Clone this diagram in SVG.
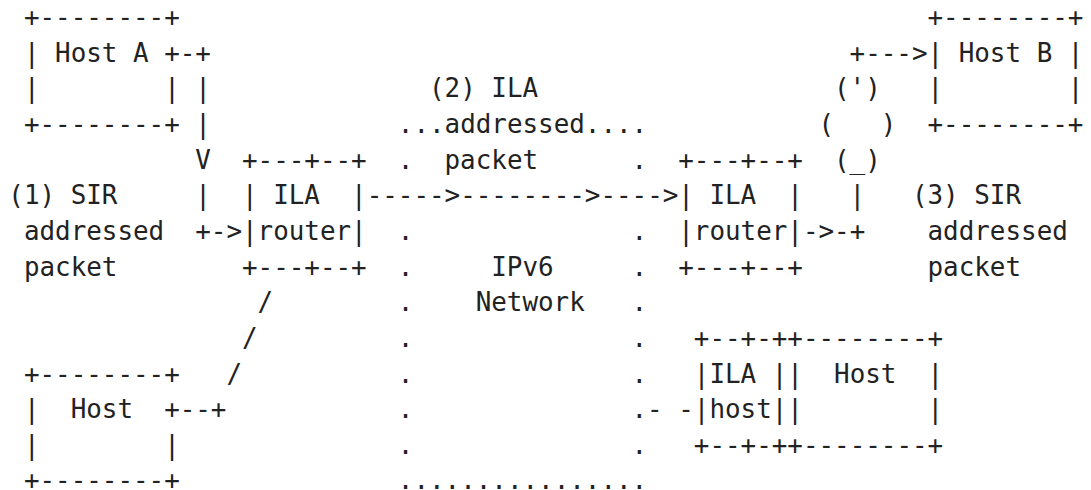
<svg xmlns="http://www.w3.org/2000/svg" width="1091" height="490" viewBox="0 0 1091 490" xml:space="preserve">
<style>
text { font-family: "DejaVu Sans Mono", "Liberation Mono", monospace; font-size: 25.9px; fill: #222222; white-space: pre; }
</style>
<rect width="1091" height="490" fill="#ffffff"/>
<g id="host-a">
<text x="23.88" y="26.1">+--------+</text>
<text x="23.88" y="61.74">| Host A +</text>
<text x="23.88" y="97.38">|        |</text>
<text x="23.88" y="133.02">+--------+</text>
</g>
<g id="host-b">
<text x="927.52" y="26.1">+--------+</text>
<text x="927.52" y="61.74">| Host B |</text>
<text x="927.52" y="97.38">|        |</text>
<text x="927.52" y="133.02">+--------+</text>
</g>
<g id="ila-router-left">
<text x="242" y="168.66">+---+--+</text>
<text x="242" y="204.3">| ILA  |</text>
<text x="242" y="239.94">|router|</text>
<text x="242" y="275.58">+---+--+</text>
</g>
<g id="ila-router-right">
<text x="678.24" y="168.66">+---+--+</text>
<text x="678.24" y="204.3">| ILA  |</text>
<text x="678.24" y="239.94">|router|</text>
<text x="678.24" y="275.58">+---+--+</text>
</g>
<g id="host-bottom">
<text x="23.88" y="382.5">+--------+</text>
<text x="23.88" y="418.14">|  Host  +</text>
<text x="23.88" y="453.78">|        |</text>
<text x="23.88" y="489.42">+--------+</text>
</g>
<g id="ila-host">
<text x="693.82" y="346.86">+--+-++--------+</text>
<text x="693.82" y="382.5">|ILA ||  Host  |</text>
<text x="693.82" y="418.14">|host||        |</text>
<text x="693.82" y="453.78">+--+-++--------+</text>
</g>
<g id="ipv6-network">
<text x="397.8" y="133.02">...addressed....</text>
<text x="397.8" y="168.66">.</text><text x="631.5" y="168.66">.</text>
<text x="397.8" y="239.94">.</text><text x="631.5" y="239.94">.</text>
<text x="397.8" y="275.58">.</text><text x="631.5" y="275.58">.</text>
<text x="397.8" y="311.22">.</text><text x="631.5" y="311.22">.</text>
<text x="397.8" y="346.86">.</text><text x="631.5" y="346.86">.</text>
<text x="397.8" y="382.5">.</text><text x="631.5" y="382.5">.</text>
<text x="397.8" y="418.14">.</text><text x="631.5" y="418.14">.</text>
<text x="397.8" y="453.78">.</text><text x="631.5" y="453.78">.</text>
<text x="397.8" y="489.42">................</text>
<text x="491.28" y="275.58">IPv6</text>
<text x="475.7" y="311.22">Network</text>
</g>
<g id="labels">
<text x="8.3" y="204.3">(1) SIR</text>
<text x="23.88" y="239.94">addressed</text>
<text x="23.88" y="275.58">packet</text>
<text x="428.96" y="97.38">(2) ILA</text>
<text x="444.54" y="168.66">packet</text>
<text x="911.94" y="204.3">(3) SIR</text>
<text x="927.52" y="239.94">addressed</text>
<text x="927.52" y="275.58">packet</text>
</g>
<g id="connectors">
<text x="179.68" y="61.74">-+</text>
<text x="195.26" y="97.38">|</text>
<text x="195.26" y="133.02">|</text>
<text x="195.26" y="168.66">V</text>
<text x="195.26" y="204.3">|</text>
<text x="195.26" y="239.94">+-&gt;</text>
<text x="366.64" y="204.3">-----&gt;--------&gt;----&gt;</text>
<text x="802.88" y="239.94">-&gt;-+</text>
<text x="849.62" y="204.3">|</text>
<text x="834.04" y="168.66">(_)</text>
<text x="818.46" y="133.02">(   )</text>
<text x="834.04" y="97.38">(')</text>
<text x="849.62" y="61.74">+---&gt;</text>
<text x="179.68" y="418.14">--+</text>
<text x="226.42" y="382.5">/</text>
<text x="242" y="346.86">/</text>
<text x="257.58" y="311.22">/</text>
<text x="647.08" y="418.14">- -</text>
</g>
</svg>
